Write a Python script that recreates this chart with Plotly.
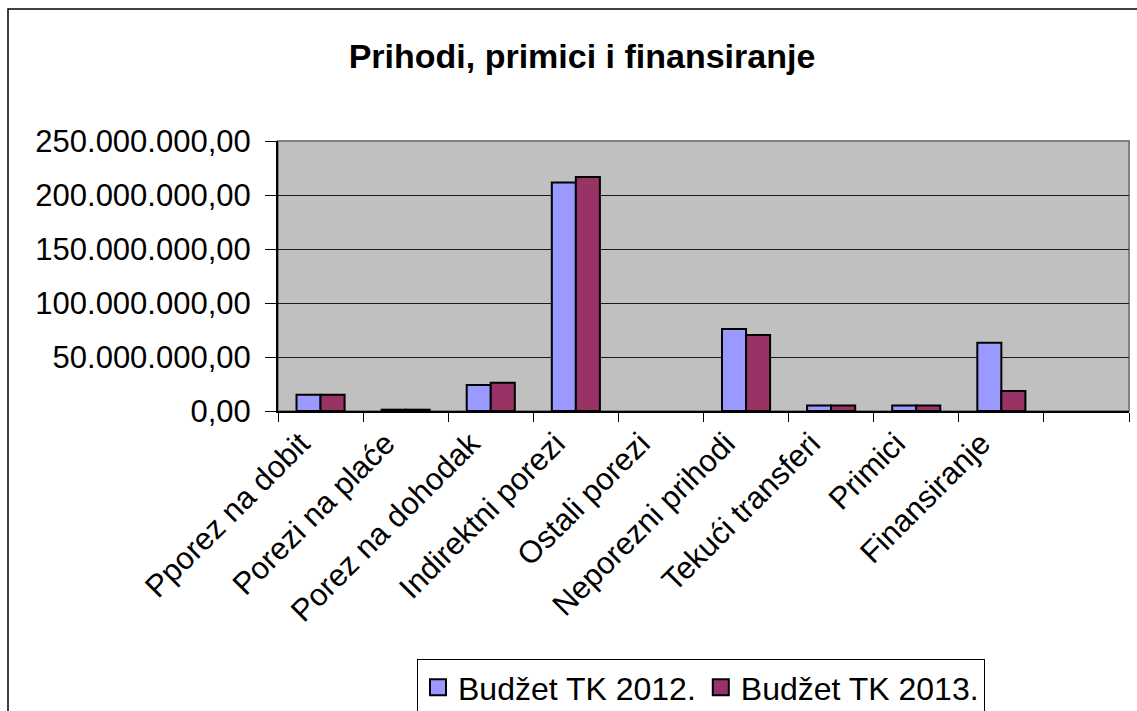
import plotly.graph_objects as go

categories = ["Pporez na dobit", "Porezi na plaće", "Porez na dohodak", "Indirektni porezi",
              "Ostali porezi", "Neporezni prihodi", "Tekući transferi", "Primici", "Finansiranje"]
budzet_2012 = [15.0e6, 1.2e6, 24.0e6, 211.5e6, 0, 76.0e6, 5.2e6, 5.2e6, 63.3e6]
budzet_2013 = [15.0e6, 1.2e6, 26.2e6, 216.7e6, 0, 70.4e6, 5.2e6, 5.2e6, 18.5e6]
series_names = ["Budžet TK 2012.", "Budžet TK 2013."]
series_colors = ["#9999FF", "#993366"]
y_ticks = [0, 50e6, 100e6, 150e6, 200e6, 250e6]
title_text = "Prihodi, primici i finansiranje"

W, H = 1137, 711
L, R, T, B = 278, 1129, 141, 411  # plot area in pixels
FONT = "Liberation Sans, Arial, sans-serif"

fig = go.Figure()
for name, vals, col in zip(series_names, [budzet_2012, budzet_2013], series_colors):
    # Excel draws no outline for empty (zero) bars
    widths = [2 if v else 0 for v in vals]
    fig.add_trace(go.Bar(x=categories, y=vals, name=name, showlegend=False,
                         marker=dict(color=col, line=dict(color="black", width=widths))))
# legend entries with larger square keys (like the Excel legend)
for name, col in zip(series_names, series_colors):
    fig.add_trace(go.Scatter(x=[None], y=[None], mode="markers", name=name,
                             marker=dict(symbol="square", size=20, color=col,
                                         line=dict(color="black", width=2)),
                             hoverinfo="skip"))

def px_x(p):
    return (p - L) / (R - L)

def px_y(p):
    return (B - p) / (B - T)

fig.update_layout(
    width=W, height=H,
    margin=dict(l=L, r=W - R, t=T, b=H - B, autoexpand=False),
    paper_bgcolor="white", plot_bgcolor="#C0C0C0",
    barmode="group", bargap=0.435, bargroupgap=0,
    separators=",.",
    font=dict(family=FONT, color="black", size=31),
    title=dict(text="<b>" + title_text + "</b>", x=582 / W, xref="container", xanchor="center",
               y=1 - 56 / H, yref="container", yanchor="middle",
               font=dict(family=FONT, size=34, color="black")),
    showlegend=True,
    legend=dict(orientation="h", x=px_x(417), xanchor="left", y=px_y(659), yanchor="top",
                bordercolor="black", borderwidth=1, bgcolor="white",
                font=dict(family=FONT, size=32, color="black"),
                traceorder="normal", itemsizing="trace"),
    xaxis=dict(categoryorder="array", categoryarray=categories + [" "],
               range=[-0.5, len(categories) + 0.5],
               tickson="boundaries", ticks="outside", ticklen=9, tickcolor="black", tickwidth=1,
               tickangle=-45, ticklabelshift=-20,
               showgrid=False, showline=True, linecolor="black", linewidth=2,
               tickfont=dict(family=FONT, size=31, color="black"), fixedrange=True),
    yaxis=dict(range=[0, 250e6], tickvals=y_ticks, tickformat=",.2f",
               ticks="outside", ticklen=11, tickcolor="black", tickwidth=1,
               showgrid=True, gridcolor="#1a1a1a", gridwidth=1,
               showline=True, linecolor="black", linewidth=2, zeroline=False,
               ticklabelstandoff=8,
               tickfont=dict(family=FONT, size=31, color="black"), fixedrange=True),
    shapes=[
        dict(type="rect", xref="paper", yref="paper", x0=0, x1=1, y0=0, y1=1,
             line=dict(color="#808080", width=2), layer="below"),
        dict(type="rect", xref="paper", yref="paper",
             x0=px_x(8), x1=px_x(1160), y0=px_y(725), y1=px_y(9),
             line=dict(color="black", width=1.5), layer="below"),
    ],
)

fig.write_html("out.html", config={"displayModeBar": False},
               post_script="document.body.style.margin='0';")
